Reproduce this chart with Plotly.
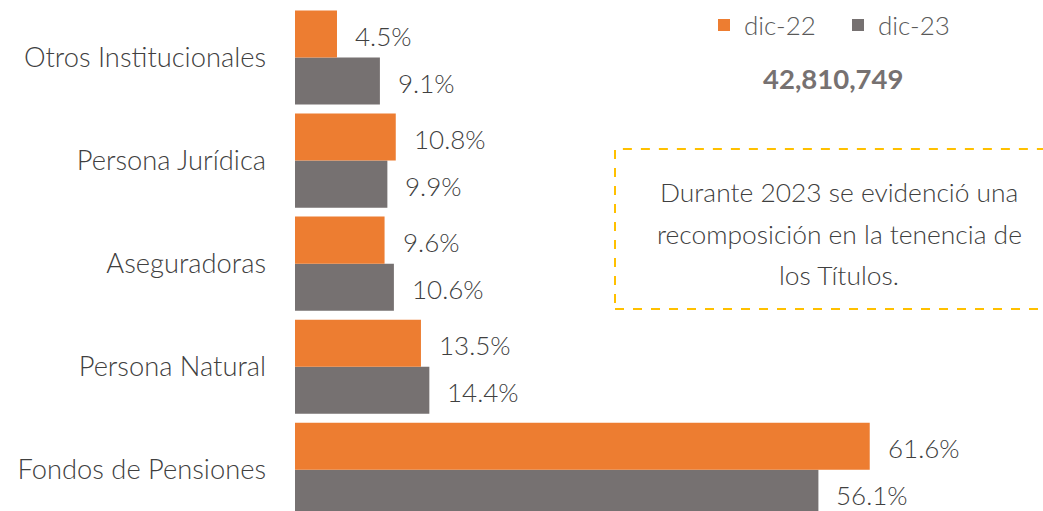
import plotly.graph_objects as go

categories = ["Fondos de Pensiones", "Persona Natural", "Aseguradoras", "Persona Jurídica", "Otros Institucionales"]
dic22 = [61.6, 13.5, 9.6, 10.8, 4.5]
dic23 = [56.1, 14.4, 10.6, 9.9, 9.1]
series_names = ["dic-22", "dic-23"]
total_label = "42,810,749"
note_lines = ["Durante 2023 se evidenció una", "recomposición en la tenencia de", "los Títulos."]

ORANGE = "#ED7D31"
GRAY = "#767171"
TXT = "#404040"
FONT = "Lato"

W, H = 1043, 511
ML, MT, MB, MR = 295, 6, 0, 0
PX_PER_UNIT = 9.33
xmax = (W - ML - MR) / PX_PER_UNIT

fig = go.Figure()
fig.add_trace(go.Bar(y=categories, x=dic23, name=series_names[1], orientation="h",
                     marker=dict(color=GRAY, line=dict(width=0)), showlegend=True, legendrank=2))
fig.add_trace(go.Bar(y=categories, x=dic22, name=series_names[0], orientation="h",
                     marker=dict(color=ORANGE, line=dict(width=0)), showlegend=True, legendrank=1))

annotations = []
slot_px = (H - MT - MB) / 4.9
off = slot_px * (1 - 0.087) / 4
for c, v in zip(categories, dic22):
    annotations.append(dict(x=v, y=c, xref="x", yref="y", text=f"{v:.1f}%", showarrow=False,
                            xanchor="left", yanchor="middle", xshift=16, yshift=off - 2,
                            font=dict(family=FONT, size=26, color=TXT, weight=300)))
for c, v in zip(categories, dic23):
    annotations.append(dict(x=v, y=c, xref="x", yref="y", text=f"{v:.1f}%", showarrow=False,
                            xanchor="left", yanchor="middle", xshift=16, yshift=-off - 2,
                            font=dict(family=FONT, size=26, color=TXT, weight=300)))

def py(p):
    return 1 - (p - MT) / (H - MT - MB)

def px(p):
    return (p - ML) / (W - ML - MR)

annotations.append(dict(x=px(833), y=py(78), xref="paper", yref="paper", text=f"<b>{total_label}</b>",
                        showarrow=False, xanchor="center", yanchor="middle",
                        font=dict(family=FONT, size=27.5, color=GRAY)))
for i, (line, yy) in enumerate(zip(note_lines, [192, 234, 275])):
    annotations.append(dict(x=px(839), y=py(yy), xref="paper", yref="paper", text=line,
                            showarrow=False, xanchor="center", yanchor="middle",
                            font=dict(family=FONT, size=26.4, color=TXT, weight=300)))

fig.update_layout(
    template="none",
    width=W, height=H,
    margin=dict(l=ML, r=MR, t=MT, b=MB, pad=0, autoexpand=False),
    paper_bgcolor="white", plot_bgcolor="white",
    barmode="group", bargap=0.087, bargroupgap=0,
    xaxis=dict(range=[0, xmax], visible=False, showgrid=False, zeroline=False, automargin=False),
    yaxis=dict(range=[-0.4, 4.5], categoryorder="array", categoryarray=categories,
               showgrid=False, zeroline=False, showline=False, ticks="", automargin=False,
               ticklabelstandoff=28,
               tickfont=dict(family=FONT, size=27.3, color=TXT, weight=300)),
    legend=dict(orientation="h", x=px(704), y=py(25), xanchor="left", yanchor="middle",
                font=dict(family=FONT, size=26, color="#595959", weight=300),
                bgcolor="rgba(0,0,0,0)", traceorder="normal", itemwidth=30,
                entrywidth=89, entrywidthmode="pixels"),
    annotations=annotations,
    shapes=[dict(type="rect", xref="paper", yref="paper", x0=px(615), x1=1.03, y0=py(309), y1=py(149),
                 line=dict(color="#FFC000", width=2, dash="dash"), fillcolor="rgba(0,0,0,0)")],
    showlegend=True,
)

fig.write_html("out.html", config={"displayModeBar": False},
               post_script="document.body.style.margin='0';document.body.style.overflow='hidden';")
